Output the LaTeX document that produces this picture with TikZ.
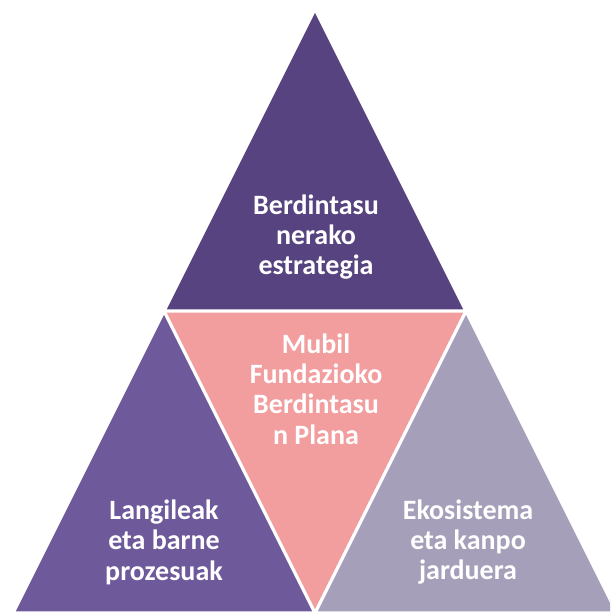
\documentclass[tikz,border=0pt]{standalone}
\usepackage{fontspec}
\setmainfont{Carlito}
\definecolor{plumdark}{HTML}{564380}
\definecolor{plummid}{HTML}{6E5A9A}
\definecolor{rosepink}{HTML}{F29D9E}
\definecolor{lilacgrey}{HTML}{A59FBA}
\tikzset{
  piece/.style={draw=white, line width=2.4pt, line join=miter},
  label/.style={text=white, font=\bfseries\fontsize{21}{22.8}\selectfont, align=center}
}
\begin{document}
\begin{tikzpicture}[x=0.75pt, y=-0.75pt]
\useasboundingbox (0,0) rectangle (610,613);
\clip (0,0) rectangle (610,613);
% corners and edge midpoints of the big triangle
\coordinate (apex) at (315,9);
\coordinate (bl) at (13,613);
\coordinate (br) at (617,613);
\coordinate (ml) at (164,311);
\coordinate (mr) at (466,311);
\coordinate (mb) at (315,613);
\fill[plumdark] (apex) -- (ml) -- (mr) -- cycle;
\fill[plummid] (ml) -- (bl) -- (mb) -- cycle;
\fill[lilacgrey] (mr) -- (mb) -- (br) -- cycle;
\fill[rosepink] (ml) -- (mr) -- (mb) -- cycle;
\draw[piece] (apex) -- (ml) -- (mr) -- cycle;
\draw[piece] (ml) -- (bl) -- (mb) -- cycle;
\draw[piece] (mr) -- (mb) -- (br) -- cycle;

\node[label] (strategy) at (316,237) {Berdintasu\\nerako\\estrategia};
\node[label] (plan) at (316,389) {Mubil\\Fundazioko\\Berdintasu\\n Plana};
\node[label] (staff) at (164,542) {Langileak\\eta barne\\prozesuak};
\node[label] (ecosystem) at (468,542) {Ekosistema\\eta kanpo\\jarduera};
\end{tikzpicture}
\end{document}
